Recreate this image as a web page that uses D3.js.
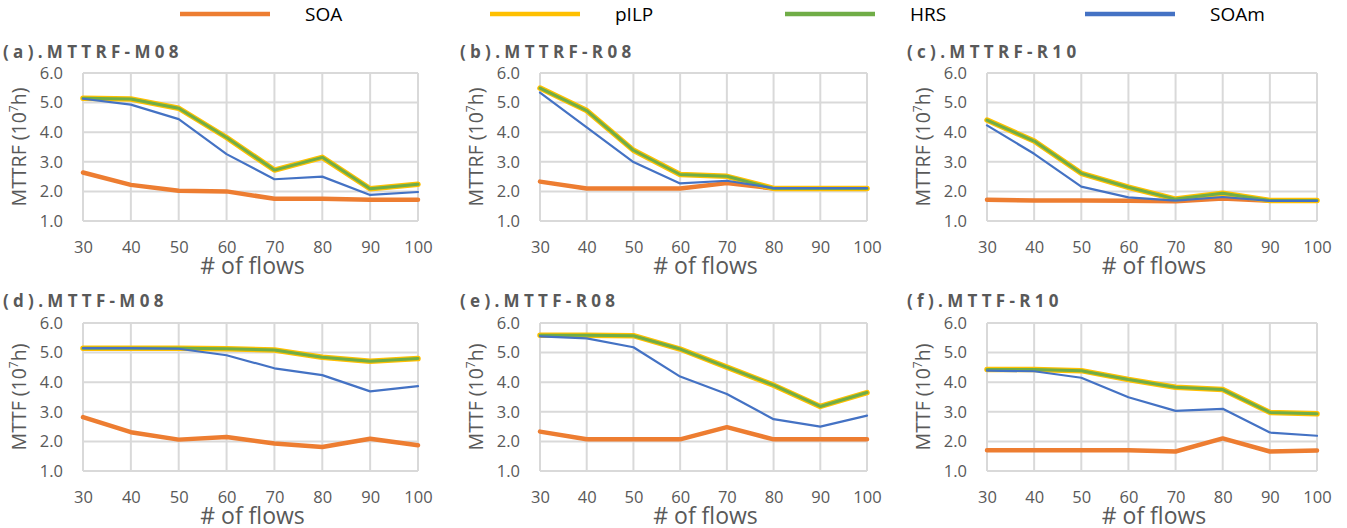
<!DOCTYPE html>
<html><head><meta charset="utf-8">
<script src="https://cdn.jsdelivr.net/npm/d3@7"></script>
<style>
body{margin:0;background:#fff;}
svg{display:block;font-family:"Open Sans","Liberation Sans",sans-serif;}
</style></head>
<body><svg id="c" width="1347" height="528"></svg>
<script>
const categories = [30, 40, 50, 60, 70, 80, 90, 100];
const yTicks = [1.0, 2.0, 3.0, 4.0, 5.0, 6.0];
const seriesNames = ["SOA", "pILP", "HRS", "SOAm"];
const panelTitles = ["(a).MTTRF-M08", "(b).MTTRF-R08", "(c).MTTRF-R10", "(d).MTTF-M08", "(e).MTTF-R08", "(f).MTTF-R10"];
const yLabels = ["MTTRF", "MTTRF", "MTTRF", "MTTF", "MTTF", "MTTF"];
const xLabel = "# of flows";

// panel (a)
const soaA  = [2.64, 2.22, 2.02, 2.00, 1.75, 1.75, 1.72, 1.72];
const pilpA = [5.15, 5.12, 4.81, 3.82, 2.72, 3.15, 2.09, 2.24];
const hrsA  = [5.15, 5.12, 4.81, 3.82, 2.72, 3.15, 2.09, 2.24];
const soamA = [5.13, 4.93, 4.44, 3.26, 2.41, 2.50, 1.88, 1.98];
// panel (b)
const soaB  = [2.33, 2.10, 2.10, 2.10, 2.28, 2.10, 2.10, 2.10];
const pilpB = [5.49, 4.73, 3.39, 2.57, 2.51, 2.10, 2.10, 2.10];
const hrsB  = [5.49, 4.73, 3.39, 2.57, 2.51, 2.10, 2.10, 2.10];
const soamB = [5.34, 4.16, 2.99, 2.27, 2.36, 2.11, 2.11, 2.11];
// panel (c)
const soaC  = [1.72, 1.69, 1.69, 1.68, 1.67, 1.76, 1.68, 1.68];
const pilpC = [4.41, 3.70, 2.61, 2.14, 1.74, 1.94, 1.69, 1.69];
const hrsC  = [4.41, 3.70, 2.61, 2.14, 1.74, 1.94, 1.69, 1.69];
const soamC = [4.23, 3.27, 2.16, 1.80, 1.69, 1.81, 1.68, 1.68];
// panel (d)
const soaD  = [2.82, 2.31, 2.06, 2.15, 1.93, 1.81, 2.09, 1.87];
const pilpD = [5.15, 5.15, 5.15, 5.13, 5.09, 4.84, 4.71, 4.80];
const hrsD  = [5.15, 5.15, 5.15, 5.13, 5.09, 4.84, 4.71, 4.80];
const soamD = [5.15, 5.15, 5.13, 4.91, 4.47, 4.24, 3.69, 3.87];
// panel (e)
const soaE  = [2.33, 2.07, 2.07, 2.07, 2.48, 2.07, 2.07, 2.07];
const pilpE = [5.59, 5.59, 5.57, 5.12, 4.51, 3.90, 3.18, 3.65];
const hrsE  = [5.59, 5.59, 5.57, 5.12, 4.51, 3.90, 3.18, 3.65];
const soamE = [5.55, 5.48, 5.18, 4.19, 3.60, 2.75, 2.50, 2.87];
// panel (f)
const soaF  = [1.70, 1.70, 1.70, 1.70, 1.66, 2.10, 1.66, 1.69];
const pilpF = [4.43, 4.43, 4.39, 4.09, 3.83, 3.75, 2.98, 2.93];
const hrsF  = [4.43, 4.43, 4.39, 4.09, 3.83, 3.75, 2.98, 2.93];
const soamF = [4.39, 4.37, 4.15, 3.49, 3.03, 3.10, 2.30, 2.19];

const panelSeries = [
  [soaA, pilpA, hrsA, soamA],
  [soaB, pilpB, hrsB, soamB],
  [soaC, pilpC, hrsC, soamC],
  [soaD, pilpD, hrsD, soamD],
  [soaE, pilpE, hrsE, soamE],
  [soaF, pilpF, hrsF, soamF]
];

const colors = ["#ED7D31", "#FFC000", "#70AD47", "#4472C4"];
const widths = [4.5, 5.5, 3, 2.2];
const textGray = "#595959";
const gridColor = "#D9D9D9";

const svg = d3.select("#c");

// legend
const legendX = [180, 490, 785, 1085];
const legend = svg.append("g");
seriesNames.forEach((n, i) => {
  legend.append("line").attr("x1", legendX[i]).attr("x2", legendX[i] + 90)
    .attr("y1", 14).attr("y2", 14).attr("stroke", colors[i]).attr("stroke-width", 4.5);
  legend.append("text").attr("x", legendX[i] + 125).attr("y", 21)
    .attr("font-size", 19).attr("fill", "#000").attr("font-family", "'Liberation Sans Narrow','Open Sans',sans-serif").text(n);
});

const colLeft = [83, 540, 987];
const colRight = [418, 867, 1317];
const rowTop = [73, 323];
const rowBottom = [221, 471];

panelSeries.forEach((series, p) => {
  const c = p % 3, r = Math.floor(p / 3);
  const x = d3.scalePoint().domain(categories).range([colLeft[c], colRight[c]]);
  const y = d3.scaleLinear().domain([1, 6]).range([rowBottom[r], rowTop[r]]);
  const g = svg.append("g");

  // grid
  g.append("g").selectAll("line.h").data(yTicks).join("line")
    .attr("x1", colLeft[c]).attr("x2", colRight[c])
    .attr("y1", d => y(d)).attr("y2", d => y(d))
    .attr("stroke", gridColor).attr("stroke-width", 2);
  g.append("g").selectAll("line.v").data(categories).join("line")
    .attr("x1", d => x(d)).attr("x2", d => x(d))
    .attr("y1", y(6)).attr("y2", y(1))
    .attr("stroke", gridColor).attr("stroke-width", 2);

  // y axis
  const ya = g.append("g").attr("transform", `translate(${colLeft[c] - 20},0)`)
    .call(d3.axisLeft(y).tickValues(yTicks).tickFormat(d3.format(".1f")).tickSize(0).tickPadding(0));
  ya.select(".domain").remove();
  ya.selectAll("text").attr("font-size", 16.5).attr("fill", textGray).attr("font-family", "'Open Sans',sans-serif");

  // x axis
  const xa = g.append("g").attr("transform", `translate(0,${rowBottom[r] + 20})`)
    .call(d3.axisBottom(x).tickSize(0).tickPadding(0));
  xa.select(".domain").remove();
  xa.selectAll("text").attr("font-size", 16.5).attr("fill", textGray).attr("font-family", "'Open Sans',sans-serif");

  // x label
  g.append("text").attr("x", (colLeft[c] + colRight[c]) / 2 + 2).attr("y", rowBottom[r] + 53)
    .attr("text-anchor", "middle").attr("font-size", 23).attr("fill", textGray).text(xLabel);

  // y label
  const yl = g.append("text")
    .attr("transform", `translate(${colLeft[c] - 57},${(rowTop[r] + rowBottom[r]) / 2}) rotate(-90)`)
    .attr("text-anchor", "middle").attr("font-size", 19.5).attr("fill", textGray);
  yl.append("tspan").text(yLabels[p] + " (10");
  yl.append("tspan").attr("font-size", 12).attr("dy", -8).text("7");
  yl.append("tspan").attr("dy", 8).text("h)");

  // title
  g.append("text").attr("x", colLeft[c] - 80).attr("y", (r === 0 ? 52 : 301) + 6)
    .attr("font-size", 17).attr("font-weight", "bold").attr("letter-spacing", 4.3)
    .attr("fill", textGray).text(panelTitles[p]);

  // lines
  const line = d3.line().x((d, i) => x(categories[i])).y(d => y(d));
  series.forEach((vals, s) => {
    g.append("path").datum(vals).attr("d", line).attr("fill", "none")
      .attr("stroke", colors[s]).attr("stroke-width", widths[s])
      .attr("stroke-linejoin", "round").attr("stroke-linecap", "round");
  });
});
</script></body></html>
